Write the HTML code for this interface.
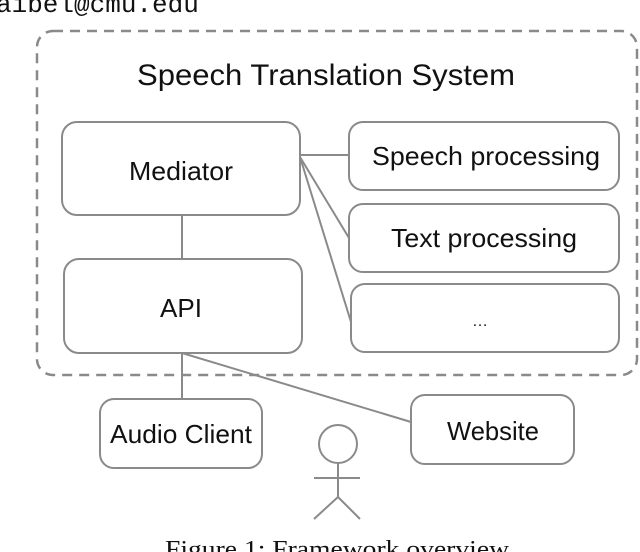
<!DOCTYPE html>
<html><head><style>
html,body{margin:0;padding:0;background:#fff;width:640px;height:552px;overflow:hidden}
svg{display:block}
text{font-family:"Liberation Sans",sans-serif;fill:#111}
</style></head><body>
<svg width="640" height="552" viewBox="0 0 640 552" xmlns="http://www.w3.org/2000/svg">
<text x="-4" y="12" style="font-family:'Liberation Mono',monospace;font-size:26px">aibel@cmu.edu</text>
<rect x="37" y="31" width="600" height="344" rx="16" fill="none" stroke="#8a8a8a" stroke-width="2.5" stroke-dasharray="10,7"/>
<text x="137" y="85" font-size="30" textLength="378" lengthAdjust="spacingAndGlyphs">Speech Translation System</text>
<g fill="none" stroke="#8a8a8a" stroke-width="2">
<rect x="62" y="122" width="238" height="93" rx="15"/>
<rect x="64" y="259" width="238" height="94" rx="15"/>
<rect x="349" y="122" width="270" height="68" rx="14"/>
<rect x="349" y="204" width="270" height="68" rx="14"/>
<rect x="351" y="284" width="268" height="68" rx="14"/>
<rect x="100" y="399" width="162" height="69" rx="14"/>
<rect x="411" y="395" width="163" height="69" rx="14"/>
<line x1="300" y1="155" x2="349" y2="155"/>
<line x1="300" y1="157" x2="349" y2="238"/>
<line x1="300" y1="157" x2="351" y2="322"/>
<line x1="182" y1="215" x2="182" y2="259"/>
<line x1="182" y1="353" x2="182" y2="399"/>
<line x1="182" y1="353" x2="411" y2="422"/>
<circle cx="338" cy="444" r="19"/>
<line x1="338" y1="463" x2="338" y2="497"/>
<line x1="314" y1="478" x2="360" y2="478"/>
<line x1="338" y1="497" x2="314" y2="519"/>
<line x1="338" y1="497" x2="360" y2="519"/>
</g>
<text x="129" y="180" font-size="26" textLength="104" lengthAdjust="spacingAndGlyphs">Mediator</text>
<text x="160" y="317" font-size="26" textLength="42" lengthAdjust="spacingAndGlyphs">API</text>
<text x="372" y="165" font-size="26" textLength="228" lengthAdjust="spacingAndGlyphs">Speech processing</text>
<text x="391" y="247" font-size="26" textLength="186" lengthAdjust="spacingAndGlyphs">Text processing</text>
<text x="480" y="326" font-size="16" text-anchor="middle">…</text>
<text x="110" y="443" font-size="26" textLength="142" lengthAdjust="spacingAndGlyphs">Audio Client</text>
<text x="447" y="440" font-size="26" textLength="92" lengthAdjust="spacingAndGlyphs">Website</text>
<text x="165" y="557" font-size="24" textLength="344" lengthAdjust="spacingAndGlyphs" style="font-family:'Liberation Serif',serif">Figure 1: Framework overview</text>
</svg>
</body></html>
